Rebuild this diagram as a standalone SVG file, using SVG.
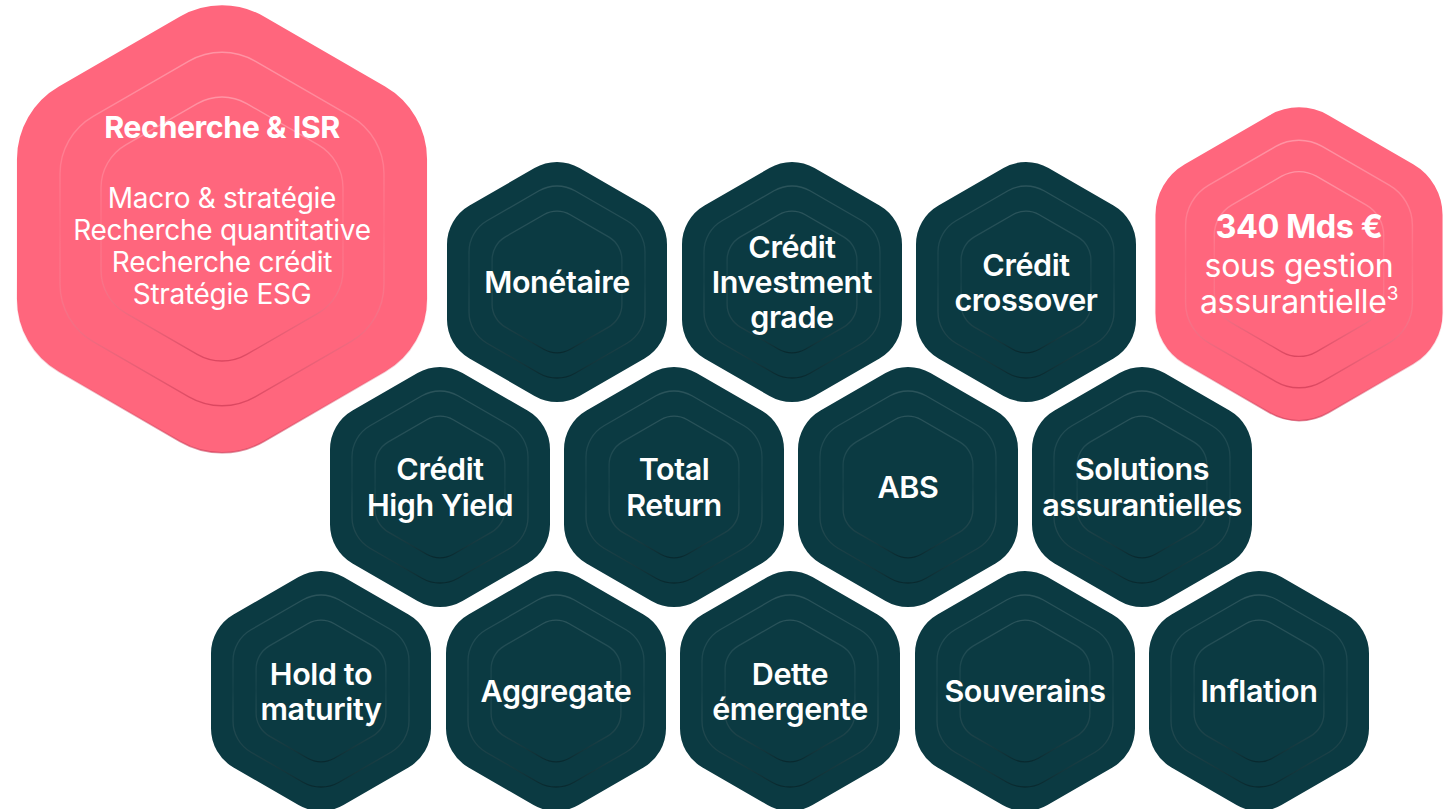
<svg xmlns="http://www.w3.org/2000/svg" xmlns:xlink="http://www.w3.org/1999/xlink" width="1450" height="809" viewBox="0 0 1450 809">
<defs>
<path id="hex" vector-effect="non-scaling-stroke" d="M 22.5,-114 L 87.5,-76.5 A 45 45 0 0 1 110,-37.5 L 110,37.5 A 45 45 0 0 1 87.5,76.5 L 22.5,114 A 45 45 0 0 1 -22.5,114 L -87.5,76.5 A 45 45 0 0 1 -110,37.5 L -110,-37.5 A 45 45 0 0 1 -87.5,-76.5 L -22.5,-114 A 45 45 0 0 1 22.5,-114 Z"/>
<linearGradient id="ringDark" x1="0" y1="0" x2="0" y2="1">
<stop offset="0" stop-color="#ffffff" stop-opacity="0.13"/>
<stop offset="0.5" stop-color="#ffffff" stop-opacity="0.04"/>
<stop offset="1" stop-color="#000000" stop-opacity="0.3"/>
</linearGradient>
<linearGradient id="ringPink" x1="0" y1="0" x2="0" y2="1">
<stop offset="0" stop-color="#ffffff" stop-opacity="0.3"/>
<stop offset="0.5" stop-color="#ffffff" stop-opacity="0.05"/>
<stop offset="1" stop-color="#b0203c" stop-opacity="0.45"/>
</linearGradient>
<linearGradient id="edgePink" x1="0" y1="0" x2="0" y2="1">
<stop offset="0" stop-color="#ff667d" stop-opacity="0"/>
<stop offset="0.6" stop-color="#ff667d" stop-opacity="0"/>
<stop offset="1" stop-color="#c83a55" stop-opacity="0.6"/>
</linearGradient>
</defs>
<style>
.dk{fill:#0b3a42}
.pk{fill:#ff667d}
.rd{fill:none;stroke:url(#ringDark);stroke-width:1.3}
.rp{fill:none;stroke:url(#ringPink);stroke-width:1.4}
.ep{fill:none;stroke:url(#edgePink);stroke-width:1.5}
.lbl{font-family:Inter,"Liberation Sans",sans-serif;font-weight:600;font-size:30.5px;fill:#ffffff;text-anchor:middle;letter-spacing:-0.4px}
.pt{font-family:Inter,"Liberation Sans",sans-serif;font-weight:700;fill:#ffffff;text-anchor:middle;letter-spacing:-0.5px}
.ps{font-family:Inter,"Liberation Sans",sans-serif;font-weight:400;fill:#ffffff;text-anchor:middle;letter-spacing:-0.3px}
</style>

<g id="connectors"></g>

<g id="node-recherche">
<g transform="translate(222,229) scale(1.864)">
<use xlink:href="#hex" class="pk"/>
<use xlink:href="#hex" class="ep"/>
<use xlink:href="#hex" class="rp" transform="scale(0.79)"/>
<use xlink:href="#hex" class="rp" transform="scale(0.59)"/>
</g>
<text class="pt" x="222" y="138" font-size="30.5">Recherche &amp; ISR</text>
<text class="ps" x="222" y="208" font-size="28">Macro &amp; stratégie</text>
<text class="ps" x="222" y="240" font-size="28">Recherche quantitative</text>
<text class="ps" x="222" y="272" font-size="28">Recherche crédit</text>
<text class="ps" x="222" y="304" font-size="28">Stratégie ESG</text>
</g>

<g id="node-assurantielle">
<g transform="translate(1299,264) scale(1.305)">
<use xlink:href="#hex" class="pk"/>
<use xlink:href="#hex" class="ep"/>
<use xlink:href="#hex" class="rp" transform="scale(0.79)"/>
<use xlink:href="#hex" class="rp" transform="scale(0.59)"/>
</g>
<text class="pt" x="1299" y="238" font-size="32.5">340 Mds €</text>
<text class="ps" x="1299" y="277" font-size="32">sous gestion</text>
<text class="ps" x="1299" y="313" font-size="32">assurantielle<tspan font-size="19" dy="-13">3</tspan></text>
</g>

<g id="node-monetaire">
<g transform="translate(557,282)"><use xlink:href="#hex" class="dk"/><use xlink:href="#hex" class="rd" transform="scale(0.8)"/><use xlink:href="#hex" class="rd" transform="scale(0.59)"/></g>
<text class="lbl" x="557" y="293">Monétaire</text>
</g>

<g id="node-credit-ig">
<g transform="translate(792,282)"><use xlink:href="#hex" class="dk"/><use xlink:href="#hex" class="rd" transform="scale(0.8)"/><use xlink:href="#hex" class="rd" transform="scale(0.59)"/></g>
<text class="lbl" x="792" y="258">Crédit</text>
<text class="lbl" x="792" y="293">Investment</text>
<text class="lbl" x="792" y="328">grade</text>
</g>

<g id="node-credit-crossover">
<g transform="translate(1026,282)"><use xlink:href="#hex" class="dk"/><use xlink:href="#hex" class="rd" transform="scale(0.8)"/><use xlink:href="#hex" class="rd" transform="scale(0.59)"/></g>
<text class="lbl" x="1026" y="276">Crédit</text>
<text class="lbl" x="1026" y="311">crossover</text>
</g>

<g id="node-high-yield">
<g transform="translate(440,487)"><use xlink:href="#hex" class="dk"/><use xlink:href="#hex" class="rd" transform="scale(0.8)"/><use xlink:href="#hex" class="rd" transform="scale(0.59)"/></g>
<text class="lbl" x="440" y="480">Crédit</text>
<text class="lbl" x="440" y="516">High Yield</text>
</g>

<g id="node-total-return">
<g transform="translate(674,487)"><use xlink:href="#hex" class="dk"/><use xlink:href="#hex" class="rd" transform="scale(0.8)"/><use xlink:href="#hex" class="rd" transform="scale(0.59)"/></g>
<text class="lbl" x="674" y="480">Total</text>
<text class="lbl" x="674" y="516">Return</text>
</g>

<g id="node-abs">
<g transform="translate(908,487)"><use xlink:href="#hex" class="dk"/><use xlink:href="#hex" class="rd" transform="scale(0.8)"/><use xlink:href="#hex" class="rd" transform="scale(0.59)"/></g>
<text class="lbl" x="908" y="498">ABS</text>
</g>

<g id="node-solutions">
<g transform="translate(1142,487)"><use xlink:href="#hex" class="dk"/><use xlink:href="#hex" class="rd" transform="scale(0.8)"/><use xlink:href="#hex" class="rd" transform="scale(0.59)"/></g>
<text class="lbl" x="1142" y="480">Solutions</text>
<text class="lbl" x="1142" y="516">assurantielles</text>
</g>

<g id="node-hold">
<g transform="translate(321,691)"><use xlink:href="#hex" class="dk"/><use xlink:href="#hex" class="rd" transform="scale(0.8)"/><use xlink:href="#hex" class="rd" transform="scale(0.59)"/></g>
<text class="lbl" x="321" y="685">Hold to</text>
<text class="lbl" x="321" y="720">maturity</text>
</g>

<g id="node-aggregate">
<g transform="translate(556,691)"><use xlink:href="#hex" class="dk"/><use xlink:href="#hex" class="rd" transform="scale(0.8)"/><use xlink:href="#hex" class="rd" transform="scale(0.59)"/></g>
<text class="lbl" x="556" y="702">Aggregate</text>
</g>

<g id="node-dette">
<g transform="translate(790,691)"><use xlink:href="#hex" class="dk"/><use xlink:href="#hex" class="rd" transform="scale(0.8)"/><use xlink:href="#hex" class="rd" transform="scale(0.59)"/></g>
<text class="lbl" x="790" y="685">Dette</text>
<text class="lbl" x="790" y="720">émergente</text>
</g>

<g id="node-souverains">
<g transform="translate(1025,691)"><use xlink:href="#hex" class="dk"/><use xlink:href="#hex" class="rd" transform="scale(0.8)"/><use xlink:href="#hex" class="rd" transform="scale(0.59)"/></g>
<text class="lbl" x="1025" y="702">Souverains</text>
</g>

<g id="node-inflation">
<g transform="translate(1259,691)"><use xlink:href="#hex" class="dk"/><use xlink:href="#hex" class="rd" transform="scale(0.8)"/><use xlink:href="#hex" class="rd" transform="scale(0.59)"/></g>
<text class="lbl" x="1259" y="702">Inflation</text>
</g>
</svg>
